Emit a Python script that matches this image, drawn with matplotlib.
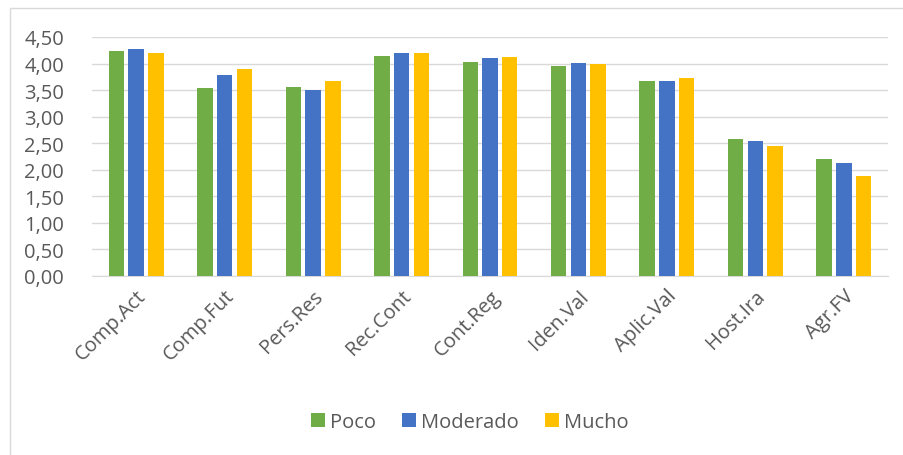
import numpy as np
import matplotlib.pyplot as plt
from matplotlib.patches import Rectangle

categories = ['Comp.Act', 'Comp.Fut', 'Pers.Res', 'Rec.Cont', 'Cont.Reg',
              'Iden.Val', 'Aplic.Val', 'Host.Ira', 'Agr.FV']
poco = [4.24, 3.54, 3.56, 4.15, 4.03, 3.96, 3.68, 2.58, 2.20]
moderado = [4.28, 3.79, 3.51, 4.20, 4.11, 4.01, 3.67, 2.54, 2.12]
mucho = [4.20, 3.90, 3.67, 4.20, 4.12, 4.00, 3.73, 2.44, 1.88]
series_names = ['Poco', 'Moderado', 'Mucho']
colors = ['#70AD47', '#4472C4', '#FFC000']

plt.rcParams['font.family'] = ['Open Sans', 'DejaVu Sans']
text_color = '#595959'
fs = 14.5

fig = plt.figure(figsize=(9.04, 4.56), dpi=100)
ax = fig.add_axes([92 / 904, 1 - 277 / 456, 796 / 904, 239 / 456])

x = np.arange(len(categories))
offset = 0.223
width = 0.175
for i, (vals, name, c) in enumerate(zip([poco, moderado, mucho], series_names, colors)):
	ax.bar(x + (i - 1) * offset, vals, width, color=c, label=name, zorder=3)

ax.set_xlim(-0.5, len(categories) - 0.5)
ax.set_ylim(0, 4.5)
yt = np.arange(0, 4.51, 0.5)
ax.set_yticks(yt)
ax.set_yticklabels([('%.2f' % v).replace('.', ',') for v in yt], fontsize=fs, color=text_color)
ax.yaxis.grid(True, color='#D9D9D9', linewidth=1, zorder=0)
ax.tick_params(axis='y', length=0, pad=20)
ax.tick_params(axis='x', length=0, pad=7)
ax.set_xticks(x)
ax.set_xticklabels(categories, rotation=45, ha='right', rotation_mode='anchor',
                   fontsize=fs, color=text_color)
for s in ['top', 'right', 'left']:
	ax.spines[s].set_visible(False)
ax.spines['bottom'].set_color('#D9D9D9')

leg = fig.legend(loc='center', bbox_to_anchor=(470 / 904, 1 - 423 / 456), ncol=3,
                 frameon=False, fontsize=fs, handlelength=0.7, handleheight=0.7,
                 handletextpad=0.25, columnspacing=1.3)
for t in leg.get_texts():
	t.set_color(text_color)

# chart area border
fig.patches.append(Rectangle((10 / 904, -0.1), 1.1, 1.1 - 9 / 456,
                             transform=fig.transFigure, fill=False,
                             edgecolor='#D9D9D9', linewidth=1))

plt.savefig('out.png', dpi=100)
